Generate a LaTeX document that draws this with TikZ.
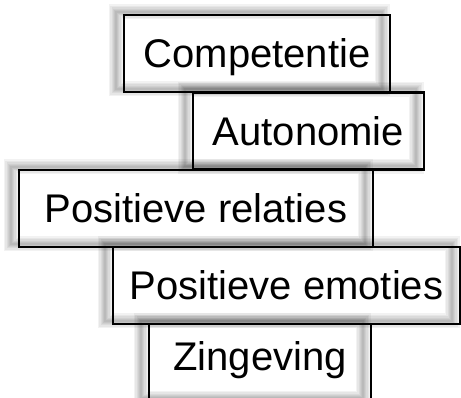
\documentclass[tikz,border=0pt]{standalone}
\usepackage{fontspec}
\setmainfont{Liberation Sans}
\usetikzlibrary{backgrounds}
\tikzset{
  lbl/.style={draw=black, line width=2.6pt, inner sep=0pt, outer sep=0pt,
    minimum height=77pt, text height=28.6pt, text depth=0pt,
    font=\fontsize{40}{48}\selectfont},
  softshade/.style={draw=black, opacity=0.05, line width=#1}
}
\begin{document}
\begin{tikzpicture}[x=1pt,y=-1pt]
\useasboundingbox (0,0) rectangle (461,398);
\clip (0,0) rectangle (461,398);
\node[lbl, minimum width=266pt] (c) at (257,53.5) {Competentie};
\node[lbl, minimum width=231pt] (a) at (308.5,131) {Autonomie};
\node[lbl, minimum width=354pt] (r) at (196,208.5) {Positieve relaties};
\node[lbl, minimum width=347pt] (e) at (286.5,285.5) {Positieve emoties};
\node[lbl, minimum width=222pt, text depth=13pt] (z) at (260,362.5) {Zingeving};
\begin{scope}[on background layer]
\foreach \n in {c,a,r,e,z}{
  \foreach \w in {15pt,12pt,9pt,6.5pt,4pt,2pt}{
    \draw[softshade=\w] ([shift={(-8,-3)}]\n.north west) rectangle ([shift={(-8,-3)}]\n.south east);
  }
}
\end{scope}
\end{tikzpicture}
\end{document}
